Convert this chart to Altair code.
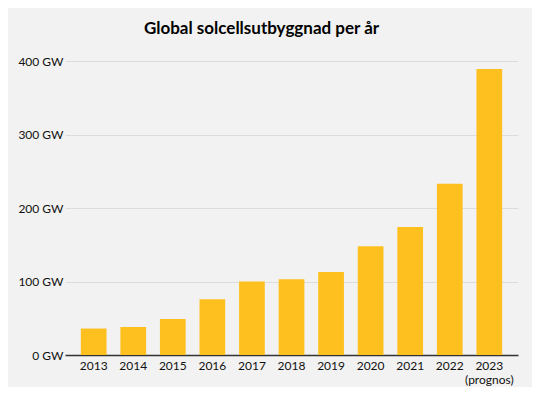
import altair as alt
import pandas as pd

years = ["2013", "2014", "2015", "2016", "2017", "2018", "2019", "2020", "2021", "2022", "2023"]
values_gw = [36, 38, 49, 76, 100, 103, 113, 148, 174, 233, 389]
y_ticks = [0, 100, 200, 300, 400]

df = pd.DataFrame({"year": years, "gw": values_gw})

FONT = "Lato"

chart = alt.Chart(df).mark_bar(color="#FDC01F").encode(
    x=alt.X(
        "year:N",
        sort=years,
        title=None,
        scale=alt.Scale(paddingInner=0.35, paddingOuter=0.4),
        axis=alt.Axis(
            labelAngle=0,
            labelFont=FONT,
            labelFontSize=12,
            labelColor="#111111",
            labelPadding=5,
            labelLineHeight=14,
            labelExpr="datum.value == '2023' ? ['2023', '(prognos)'] : datum.value",
            ticks=False,
            domainColor="#333333",
            domainWidth=1.5,
            grid=False,
        ),
    ),
    y=alt.Y(
        "gw:Q",
        title=None,
        scale=alt.Scale(domain=[0, 400]),
        axis=alt.Axis(
            values=y_ticks,
            labelExpr="datum.value + ' GW'",
            labelFont=FONT,
            labelFontSize=12,
            labelColor="#111111",
            labelPadding=2,
            ticks=False,
            domain=False,
            gridColor="#dcdcdc",
            gridWidth=1,
        ),
    ),
).properties(
    width=453,
    height=294,
    title=alt.TitleParams(
        "Global solcellsutbyggnad per år",
        font=FONT,
        fontSize=17,
        fontWeight="bold",
        color="#000000",
        anchor="middle",
        dx=-30,
        offset=17,
    ),
    background="#f2f2f2",
    autosize=alt.AutoSizeParams(type="none"),
    padding={"left": 57, "top": 53, "right": 14, "bottom": 32},
).configure_view(stroke=None)

chart.save("out.html", embed_options={"renderer": "svg", "actions": False})
